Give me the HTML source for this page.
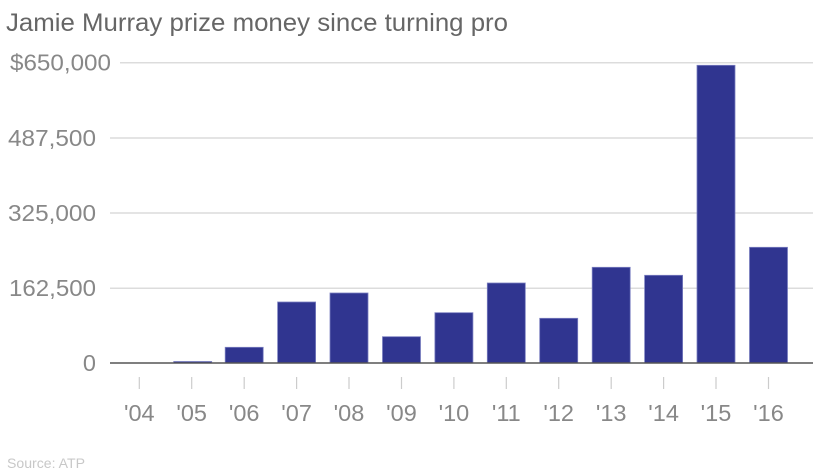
<!DOCTYPE html>
<html><head><meta charset="utf-8"><style>
html,body{margin:0;padding:0;background:#fff;}
svg{display:block;}
text{font-family:"Liberation Sans",Arial,sans-serif;}
</style></head><body>
<svg width="839" height="472" viewBox="0 0 839 472" xmlns="http://www.w3.org/2000/svg">
<rect width="839" height="472" fill="#fff"/>
<text x="6" y="31" font-size="25" fill="#666" textLength="502" lengthAdjust="spacingAndGlyphs">Jamie Murray prize money since turning pro</text>
<g stroke="#dcdcdc" stroke-width="1.5">
<line x1="120" y1="62.7" x2="813" y2="62.7"/>
<line x1="110" y1="138" x2="813" y2="138"/>
<line x1="110" y1="213" x2="813" y2="213"/>
<line x1="110" y1="288.3" x2="813" y2="288.3"/>
</g>
<g font-size="23.5" fill="#888">
<text x="10" y="70.5" textLength="101" lengthAdjust="spacingAndGlyphs">$650,000</text>
<text x="8" y="146" textLength="88" lengthAdjust="spacingAndGlyphs">487,500</text>
<text x="8" y="221" textLength="88" lengthAdjust="spacingAndGlyphs">325,000</text>
<text x="9" y="296" textLength="87" lengthAdjust="spacingAndGlyphs">162,500</text>
<text x="96" y="371" text-anchor="end">0</text>
</g>
<g fill="#303590" stroke="#7a7fc0" stroke-width="0.8">
<rect x="173.7" y="361.5" width="38" height="1.5"/>
<rect x="225.2" y="347.3" width="38" height="15.7"/>
<rect x="277.6" y="302" width="38" height="61"/>
<rect x="330" y="293" width="38" height="70"/>
<rect x="382.5" y="336.7" width="38" height="26.3"/>
<rect x="434.9" y="312.7" width="38" height="50.3"/>
<rect x="487.3" y="283" width="38" height="80"/>
<rect x="539.7" y="318.3" width="38" height="44.7"/>
<rect x="592.2" y="267.3" width="38" height="95.7"/>
<rect x="644.6" y="275.3" width="38" height="87.7"/>
<rect x="697" y="65.3" width="38" height="297.7"/>
<rect x="749.5" y="247.3" width="38" height="115.7"/>
</g>
<line x1="110" y1="363" x2="813" y2="363" stroke="#555" stroke-width="1.5"/>
<g stroke="#ccc" stroke-width="1.2">
<line x1="139.3" y1="377" x2="139.3" y2="389"/>
<line x1="191.7" y1="377" x2="191.7" y2="389"/>
<line x1="244.2" y1="377" x2="244.2" y2="389"/>
<line x1="296.6" y1="377" x2="296.6" y2="389"/>
<line x1="349" y1="377" x2="349" y2="389"/>
<line x1="401.5" y1="377" x2="401.5" y2="389"/>
<line x1="453.9" y1="377" x2="453.9" y2="389"/>
<line x1="506.3" y1="377" x2="506.3" y2="389"/>
<line x1="558.7" y1="377" x2="558.7" y2="389"/>
<line x1="611.2" y1="377" x2="611.2" y2="389"/>
<line x1="663.6" y1="377" x2="663.6" y2="389"/>
<line x1="716" y1="377" x2="716" y2="389"/>
<line x1="768.5" y1="377" x2="768.5" y2="389"/>
</g>
<g font-size="23.5" fill="#888" text-anchor="middle">
<text x="139.3" y="421">'04</text>
<text x="191.7" y="421">'05</text>
<text x="244.2" y="421">'06</text>
<text x="296.6" y="421">'07</text>
<text x="349" y="421">'08</text>
<text x="401.5" y="421">'09</text>
<text x="453.9" y="421">'10</text>
<text x="506.3" y="421">'11</text>
<text x="558.7" y="421">'12</text>
<text x="611.2" y="421">'13</text>
<text x="663.6" y="421">'14</text>
<text x="716" y="421">'15</text>
<text x="768.5" y="421">'16</text>
</g>
<text x="7" y="468" font-size="14" fill="#c8c8c8" textLength="78" lengthAdjust="spacingAndGlyphs">Source: ATP</text>
</svg>
</body></html>
